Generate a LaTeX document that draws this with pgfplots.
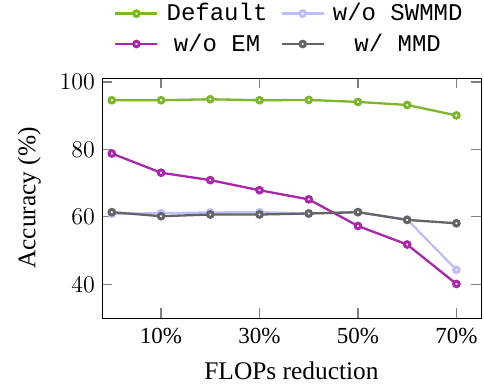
\documentclass[border=0pt]{standalone}
\usepackage{pgfplots}
\pgfplotsset{compat=1.18}
\usepackage{fontspec}
\setmainfont{Liberation Serif}
\newfontfamily\courier{Liberation Mono}
\definecolor{cdef}{RGB}{125,182,42}
\definecolor{cem}{RGB}{170,38,170}
\definecolor{csw}{RGB}{190,190,255}
\definecolor{cmmd}{RGB}{100,100,100}
\begin{document}
\begin{tikzpicture}
\begin{axis}[
  name=ax,
  scale only axis,
  width=189.5pt, height=120pt,
  xmin=-2, xmax=75, ymin=30, ymax=101.2,
  xtick={10,30,50,70},
  xticklabels={10\%,30\%,50\%,70\%},
  ytick={40,60,80,100},
  tick style={gray, line width=0.6pt},
  major tick length=5pt,
  tick label style={font=\fontsize{11.5}{13}\selectfont},
  xticklabel style={yshift=-1.8pt},
  label style={font=\fontsize{12.7}{15}\selectfont},
  xlabel={FLOPs reduction},
  ylabel={Accuracy (\%)},
  xlabel style={yshift=-2pt},
  ylabel style={yshift=2.5pt},
  legend columns=2,
  legend style={draw=none, at={(0.497,1)}, anchor=south, yshift=9.7pt,
    font=\courier\fontsize{12}{14}\selectfont, column sep=2pt,
    /tikz/every even column/.append style={column sep=4.5pt},
    row sep=1pt, inner sep=0pt, nodes={inner xsep=2pt}},
  legend cell align=center,
  legend image code/.code={\draw[mark repeat=2,mark phase=2] plot coordinates {(0cm,0cm) (0.37cm,0cm) (0.74cm,0cm)};},
  every axis plot/.append style={line width=1.15pt, mark=*, mark size=1.4pt, mark options={fill=white, line width=1.5pt}},
]
\addplot[color=cdef] coordinates {(0,94.6) (10,94.6) (20,94.9) (30,94.6) (40,94.7) (50,94.1) (60,93.2) (70,90.1)};
\addlegendentry{Default}
\addplot[color=csw] coordinates {(0,60.9) (10,61.1) (20,61.3) (30,61.4) (40,61.0) (50,61.4) (60,59.2) (70,44.3)};
\addlegendentry{w/o SWMMD}
\addplot[color=cem] coordinates {(0,78.8) (10,73.1) (20,70.9) (30,67.9) (40,65.2) (50,57.3) (60,51.8) (70,40.1)};
\addlegendentry{w/o EM}
\addplot[color=cmmd] coordinates {(0,61.4) (10,60.2) (20,60.7) (30,60.7) (40,61.0) (50,61.4) (60,59.1) (70,58.1)};
\addlegendentry{w/ MMD}
\end{axis}
\pgfresetboundingbox
\path ([shift={(-51pt,-33.5pt)}]ax.south west) rectangle ([shift={(1.5pt,39pt)}]ax.north east);
\end{tikzpicture}
\end{document}
